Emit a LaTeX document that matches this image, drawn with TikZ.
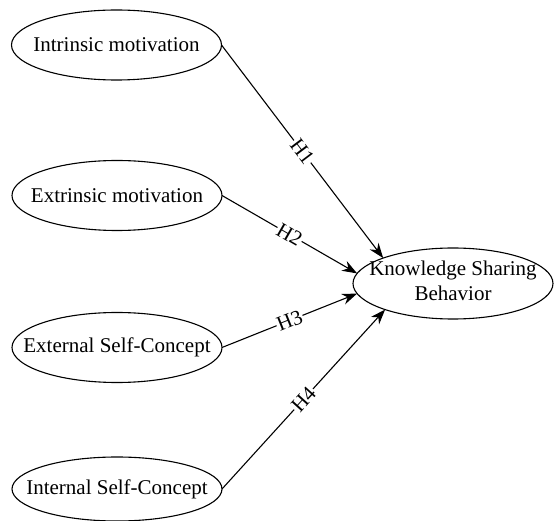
\documentclass[tikz,border=0pt]{standalone}
\usepackage{fontspec}
\setmainfont{Liberation Serif}
\usetikzlibrary{shapes.geometric,arrows.meta}
\newcommand{\zw}[1]{\makebox[0pt]{#1}}
\begin{document}
\begin{tikzpicture}[x=1pt,y=-1pt,
  every node/.style={font=\fontsize{21}{25}\selectfont},
  oval/.style={draw, ellipse, line width=1.1pt, inner sep=0pt, outer sep=0pt, minimum width=210pt, minimum height=70pt},
  conn/.style={line width=1.1pt, -{Stealth[length=15pt,width=11pt]}},
  hlab/.style={sloped, fill=white, inner sep=1pt, midway}]
\useasboundingbox (0,0) rectangle (555,521);
\node[oval] (im) at (116.5,45) {\zw{Intrinsic motivation}};
\node[oval] (em) at (117,195.5) {\zw{Extrinsic motivation}};
\node[oval] (es) at (117,347.5) {\zw{External Self-Concept}};
\node[oval, minimum height=64pt] (is) at (117,489) {\zw{Internal Self-Concept}};
\node[oval, minimum width=200pt, minimum height=71pt] (k) at (453,283.5) {\zw{\begin{tabular}{@{}c@{}}Knowledge Sharing\\Behavior\end{tabular}}};
\draw[conn] (im.east) -- node[hlab] {H1} (k.160);
\draw[conn] (em.east) -- node[hlab] {H2} (k.174);
\draw[conn] (es.east) -- node[hlab] {H3} (k.186);
\draw[conn] (is.east) -- node[hlab] {H4} (k.201);
\end{tikzpicture}
\end{document}
